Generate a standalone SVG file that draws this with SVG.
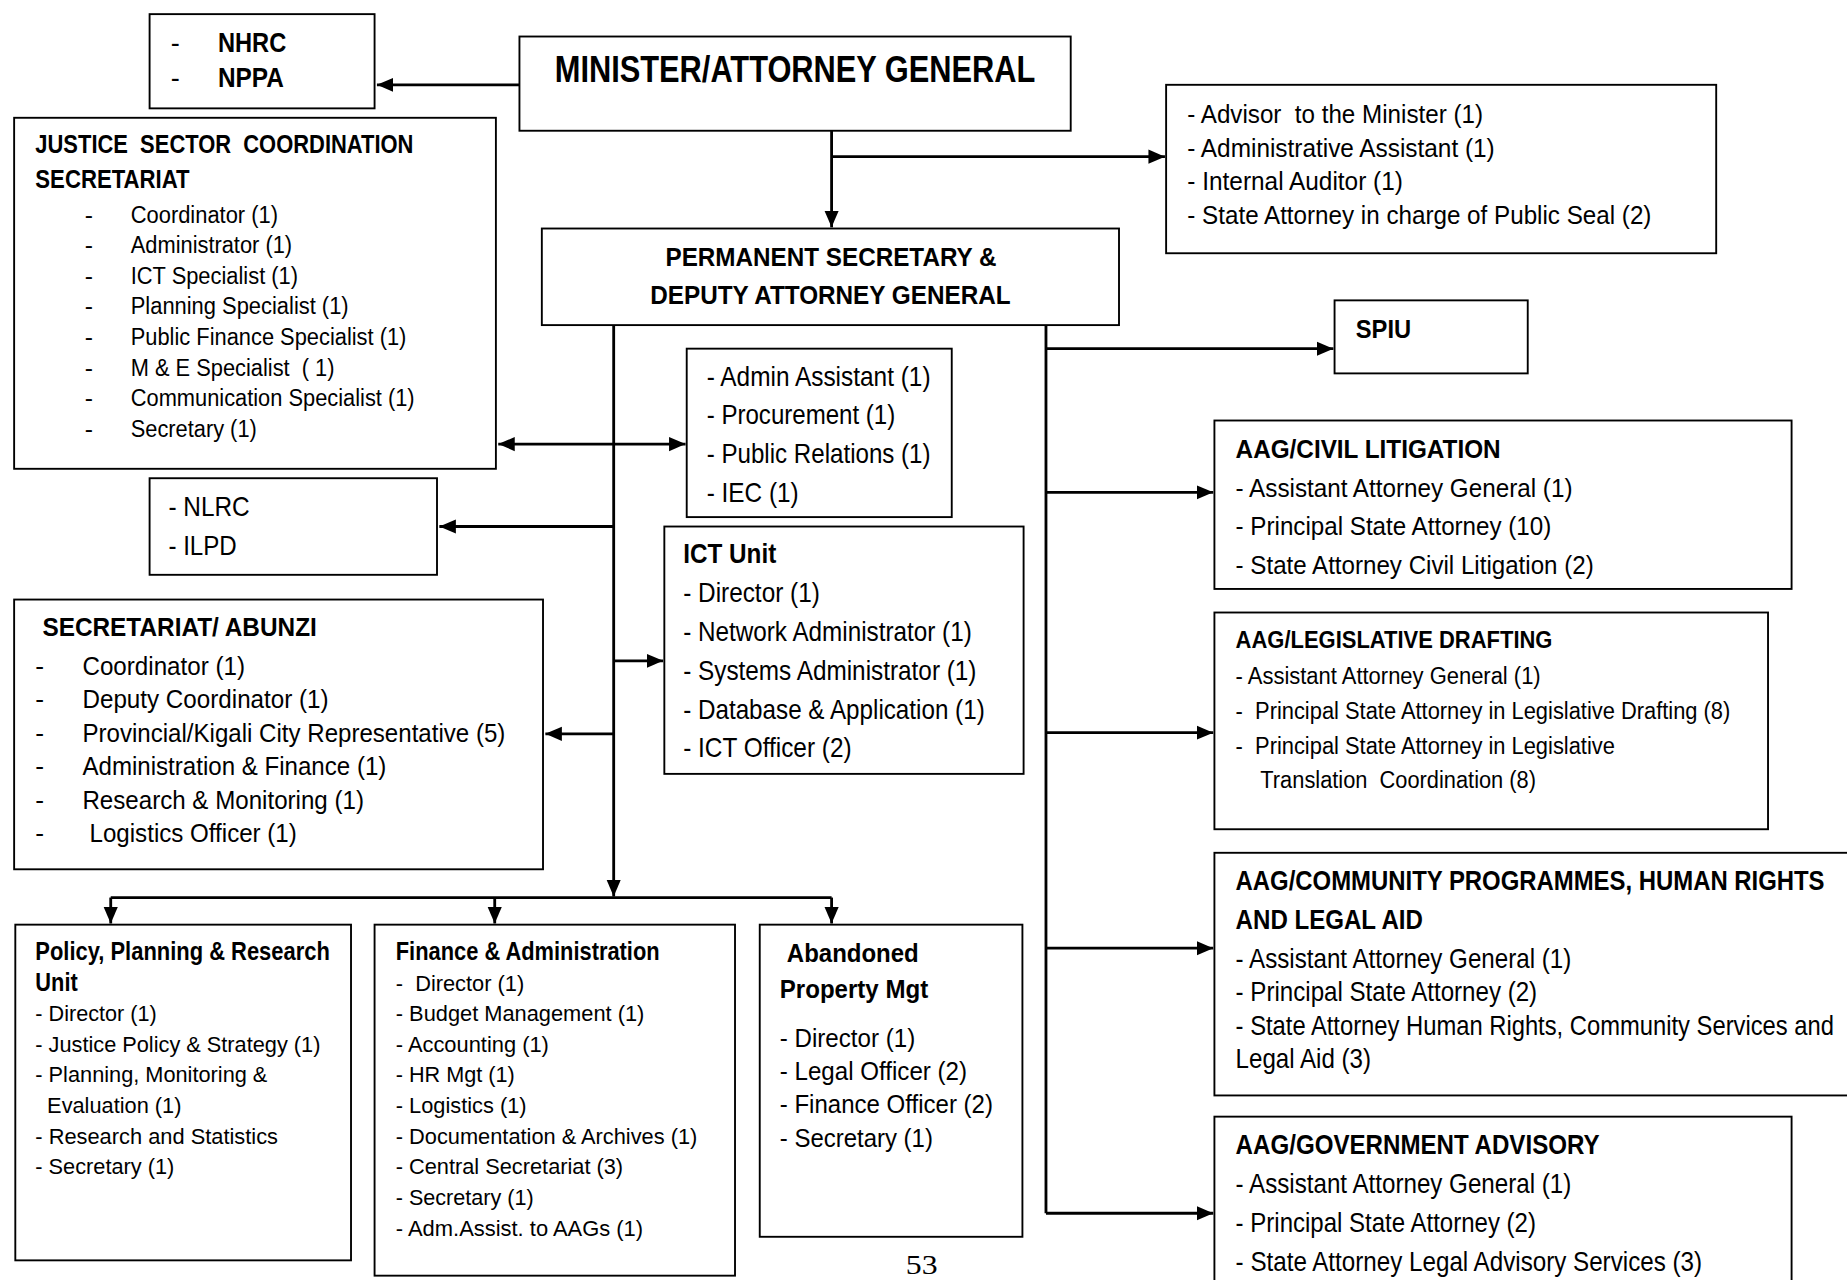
<svg xmlns="http://www.w3.org/2000/svg" width="1847" height="1280" viewBox="0 0 1847 1280">
<style>
.box{fill:#fff;stroke:#000;stroke-width:1.6}
.c{fill:none;stroke:#000;stroke-width:2.4}
text{font-family:"Liberation Sans Narrow","Liberation Sans",Arial,sans-serif;fill:#000;white-space:pre}
.b{font-weight:bold}
</style>
<defs>
<marker id="ah" markerUnits="userSpaceOnUse" markerWidth="15" markerHeight="15" viewBox="0 0 15 15" refX="14" refY="7.5" orient="auto-start-reverse">
<path d="M0,1.5 L14,7.5 L0,13.5 Z" fill="#000"/>
</marker>
</defs>
<rect width="1847" height="1280" fill="#fff"/>
<g transform="scale(1.1779)">
<g id="connectors">
<path class="c" d="M441,72 H320" marker-end="url(#ah)"/>
<path class="c" d="M706,111 V193" marker-end="url(#ah)"/>
<path class="c" d="M706,133 H989" marker-end="url(#ah)"/>
<path class="c" d="M521,276 V761" marker-end="url(#ah)"/>
<path class="c" d="M94,762 H706"/>
<path class="c" d="M94,762 V784" marker-end="url(#ah)"/>
<path class="c" d="M420,762 V784" marker-end="url(#ah)"/>
<path class="c" d="M706,762 V784" marker-end="url(#ah)"/>
<path class="c" d="M423,377 H582" marker-start="url(#ah)" marker-end="url(#ah)"/>
<path class="c" d="M521,447 H373" marker-end="url(#ah)"/>
<path class="c" d="M521,561 H563" marker-end="url(#ah)"/>
<path class="c" d="M521,623 H463" marker-end="url(#ah)"/>
<path class="c" d="M888,276 V1030"/>
<path class="c" d="M888,296 H1132" marker-end="url(#ah)"/>
<path class="c" d="M888,418 H1030" marker-end="url(#ah)"/>
<path class="c" d="M888,622 H1030" marker-end="url(#ah)"/>
<path class="c" d="M888,805 H1030" marker-end="url(#ah)"/>
<path class="c" d="M888,1030 H1030" marker-end="url(#ah)"/>
</g>

<g id="nhrc">
<rect class="box" x="127" y="12" width="191" height="80"/>
<text font-size="23" x="145" y="44">-</text>
<text class="b" font-size="23" x="185" y="44" textLength="58" lengthAdjust="spacingAndGlyphs">NHRC</text>
<text font-size="23" x="145" y="74">-</text>
<text class="b" font-size="23" x="185" y="74" textLength="56" lengthAdjust="spacingAndGlyphs">NPPA</text>
</g>

<g id="minister">
<rect class="box" x="441" y="31" width="468" height="80"/>
<text class="b" font-size="31.5" x="471" y="70" textLength="408" lengthAdjust="spacingAndGlyphs">MINISTER/ATTORNEY GENERAL</text>
</g>

<g id="jscs">
<rect class="box" x="12" y="100" width="409" height="298"/>
<text class="b" font-size="22" x="30" y="130" textLength="321" lengthAdjust="spacingAndGlyphs">JUSTICE  SECTOR  COORDINATION</text>
<text class="b" font-size="22" x="30" y="160" textLength="131" lengthAdjust="spacingAndGlyphs">SECRETARIAT</text>
<g font-size="21">
<text x="72" y="189">-</text><text x="111" y="189" textLength="125" lengthAdjust="spacingAndGlyphs">Coordinator (1)</text>
<text x="72" y="215">-</text><text x="111" y="215" textLength="137" lengthAdjust="spacingAndGlyphs">Administrator (1)</text>
<text x="72" y="241">-</text><text x="111" y="241" textLength="142" lengthAdjust="spacingAndGlyphs">ICT Specialist (1)</text>
<text x="72" y="267">-</text><text x="111" y="267" textLength="185" lengthAdjust="spacingAndGlyphs">Planning Specialist (1)</text>
<text x="72" y="293">-</text><text x="111" y="293" textLength="234" lengthAdjust="spacingAndGlyphs">Public Finance Specialist (1)</text>
<text x="72" y="319">-</text><text x="111" y="319" textLength="173" lengthAdjust="spacingAndGlyphs">M &amp; E Specialist  ( 1)</text>
<text x="72" y="345">-</text><text x="111" y="345" textLength="241" lengthAdjust="spacingAndGlyphs">Communication Specialist (1)</text>
<text x="72" y="371">-</text><text x="111" y="371" textLength="107" lengthAdjust="spacingAndGlyphs">Secretary (1)</text>
</g>
</g>

<g id="advisor">
<rect class="box" x="990" y="72" width="467" height="143"/>
<g font-size="22.5">
<text x="1008" y="104" textLength="251" lengthAdjust="spacingAndGlyphs">- Advisor  to the Minister (1)</text>
<text x="1008" y="133" textLength="261" lengthAdjust="spacingAndGlyphs">- Administrative Assistant (1)</text>
<text x="1008" y="161" textLength="183" lengthAdjust="spacingAndGlyphs">- Internal Auditor (1)</text>
<text x="1008" y="190" textLength="394" lengthAdjust="spacingAndGlyphs">- State Attorney in charge of Public Seal (2)</text>
</g>
</g>

<g id="ps">
<rect class="box" x="460" y="194" width="490" height="82"/>
<text class="b" font-size="21.5" x="565" y="226" textLength="281" lengthAdjust="spacingAndGlyphs">PERMANENT SECRETARY &amp;</text>
<text class="b" font-size="21.5" x="552" y="258" textLength="306" lengthAdjust="spacingAndGlyphs">DEPUTY ATTORNEY GENERAL</text>
</g>

<g id="spiu">
<rect class="box" x="1133" y="255" width="164" height="62"/>
<text class="b" font-size="22" x="1151" y="287" textLength="47" lengthAdjust="spacingAndGlyphs">SPIU</text>
</g>

<g id="admin">
<rect class="box" x="583" y="296" width="225" height="143"/>
<g font-size="23">
<text x="600" y="328" textLength="190" lengthAdjust="spacingAndGlyphs">- Admin Assistant (1)</text>
<text x="600" y="360" textLength="160" lengthAdjust="spacingAndGlyphs">- Procurement (1)</text>
<text x="600" y="393" textLength="190" lengthAdjust="spacingAndGlyphs">- Public Relations (1)</text>
<text x="600" y="426" textLength="78" lengthAdjust="spacingAndGlyphs">- IEC (1)</text>
</g>
</g>

<g id="nlrc">
<rect class="box" x="127" y="406" width="244" height="82"/>
<text font-size="23" x="143" y="438" textLength="69" lengthAdjust="spacingAndGlyphs">- NLRC</text>
<text font-size="23" x="143" y="471" textLength="58" lengthAdjust="spacingAndGlyphs">- ILPD</text>
</g>

<g id="ict">
<rect class="box" x="564" y="447" width="305" height="210"/>
<text class="b" font-size="23" x="580" y="478" textLength="79" lengthAdjust="spacingAndGlyphs">ICT Unit</text>
<g font-size="23">
<text x="580" y="511" textLength="116" lengthAdjust="spacingAndGlyphs">- Director (1)</text>
<text x="580" y="544" textLength="245" lengthAdjust="spacingAndGlyphs">- Network Administrator (1)</text>
<text x="580" y="577" textLength="249" lengthAdjust="spacingAndGlyphs">- Systems Administrator (1)</text>
<text x="580" y="610" textLength="256" lengthAdjust="spacingAndGlyphs">- Database &amp; Application (1)</text>
<text x="580" y="643" textLength="143" lengthAdjust="spacingAndGlyphs">- ICT Officer (2)</text>
</g>
</g>

<g id="abunzi">
<rect class="box" x="12" y="509" width="449" height="229"/>
<text class="b" font-size="22" x="36" y="540" textLength="233" lengthAdjust="spacingAndGlyphs">SECRETARIAT/ ABUNZI</text>
<g font-size="22.5">
<text x="30" y="573">-</text><text x="70" y="573" textLength="138" lengthAdjust="spacingAndGlyphs">Coordinator (1)</text>
<text x="30" y="601">-</text><text x="70" y="601" textLength="209" lengthAdjust="spacingAndGlyphs">Deputy Coordinator (1)</text>
<text x="30" y="630">-</text><text x="70" y="630" textLength="359" lengthAdjust="spacingAndGlyphs">Provincial/Kigali City Representative (5)</text>
<text x="30" y="658">-</text><text x="70" y="658" textLength="258" lengthAdjust="spacingAndGlyphs">Administration &amp; Finance (1)</text>
<text x="30" y="687">-</text><text x="70" y="687" textLength="239" lengthAdjust="spacingAndGlyphs">Research &amp; Monitoring (1)</text>
<text x="30" y="715">-</text><text x="76" y="715" textLength="176" lengthAdjust="spacingAndGlyphs">Logistics Officer (1)</text>
</g>
</g>

<g id="civil">
<rect class="box" x="1031" y="357" width="490" height="143"/>
<text class="b" font-size="22.5" x="1049" y="389" textLength="225" lengthAdjust="spacingAndGlyphs">AAG/CIVIL LITIGATION</text>
<g font-size="22.5">
<text x="1049" y="422" textLength="286" lengthAdjust="spacingAndGlyphs">- Assistant Attorney General (1)</text>
<text x="1049" y="454" textLength="268" lengthAdjust="spacingAndGlyphs">- Principal State Attorney (10)</text>
<text x="1049" y="487" textLength="304" lengthAdjust="spacingAndGlyphs">- State Attorney Civil Litigation (2)</text>
</g>
</g>

<g id="legislative">
<rect class="box" x="1031" y="520" width="470" height="184"/>
<text class="b" font-size="20.5" x="1049" y="550" textLength="269" lengthAdjust="spacingAndGlyphs">AAG/LEGISLATIVE DRAFTING</text>
<g font-size="21">
<text x="1049" y="581" textLength="259" lengthAdjust="spacingAndGlyphs">- Assistant Attorney General (1)</text>
<text x="1049" y="610" textLength="420" lengthAdjust="spacingAndGlyphs">-  Principal State Attorney in Legislative Drafting (8)</text>
<text x="1049" y="640" textLength="322" lengthAdjust="spacingAndGlyphs">-  Principal State Attorney in Legislative</text>
<text x="1070" y="669" textLength="234" lengthAdjust="spacingAndGlyphs">Translation  Coordination (8)</text>
</g>
</g>

<g id="community">
<rect class="box" x="1031" y="724" width="560" height="206"/>
<text class="b" font-size="23" x="1049" y="756" textLength="500" lengthAdjust="spacingAndGlyphs">AAG/COMMUNITY PROGRAMMES, HUMAN RIGHTS</text>
<text class="b" font-size="23" x="1049" y="789" textLength="159" lengthAdjust="spacingAndGlyphs">AND LEGAL AID</text>
<g font-size="23">
<text x="1049" y="822" textLength="285" lengthAdjust="spacingAndGlyphs">- Assistant Attorney General (1)</text>
<text x="1049" y="850" textLength="256" lengthAdjust="spacingAndGlyphs">- Principal State Attorney (2)</text>
<text x="1049" y="879" textLength="508" lengthAdjust="spacingAndGlyphs">- State Attorney Human Rights, Community Services and</text>
<text x="1049" y="907" textLength="115" lengthAdjust="spacingAndGlyphs">Legal Aid (3)</text>
</g>
</g>

<g id="government">
<rect class="box" x="1031" y="948" width="490" height="160"/>
<text class="b" font-size="23" x="1049" y="980" textLength="309" lengthAdjust="spacingAndGlyphs">AAG/GOVERNMENT ADVISORY</text>
<g font-size="23">
<text x="1049" y="1013" textLength="285" lengthAdjust="spacingAndGlyphs">- Assistant Attorney General (1)</text>
<text x="1049" y="1046" textLength="255" lengthAdjust="spacingAndGlyphs">- Principal State Attorney (2)</text>
<text x="1049" y="1079" textLength="396" lengthAdjust="spacingAndGlyphs">- State Attorney Legal Advisory Services (3)</text>
</g>
</g>

<g id="policy">
<rect class="box" x="13" y="785" width="285" height="285"/>
<text class="b" font-size="21.5" x="30" y="815" textLength="250" lengthAdjust="spacingAndGlyphs">Policy, Planning &amp; Research</text>
<text class="b" font-size="21.5" x="30" y="841" textLength="36" lengthAdjust="spacingAndGlyphs">Unit</text>
<g font-size="19.5">
<text x="30" y="867" textLength="103" lengthAdjust="spacingAndGlyphs">- Director (1)</text>
<text x="30" y="893" textLength="242" lengthAdjust="spacingAndGlyphs">- Justice Policy &amp; Strategy (1)</text>
<text x="30" y="919" textLength="197" lengthAdjust="spacingAndGlyphs">- Planning, Monitoring &amp;</text>
<text x="40" y="945" textLength="114" lengthAdjust="spacingAndGlyphs">Evaluation (1)</text>
<text x="30" y="971" textLength="206" lengthAdjust="spacingAndGlyphs">- Research and Statistics</text>
<text x="30" y="997" textLength="118" lengthAdjust="spacingAndGlyphs">- Secretary (1)</text>
</g>
</g>

<g id="finance">
<rect class="box" x="318" y="785" width="306" height="298"/>
<text class="b" font-size="21.5" x="336" y="815" textLength="224" lengthAdjust="spacingAndGlyphs">Finance &amp; Administration</text>
<g font-size="19.5">
<text x="336" y="841" textLength="109" lengthAdjust="spacingAndGlyphs">-  Director (1)</text>
<text x="336" y="867" textLength="211" lengthAdjust="spacingAndGlyphs">- Budget Management (1)</text>
<text x="336" y="893" textLength="130" lengthAdjust="spacingAndGlyphs">- Accounting (1)</text>
<text x="336" y="919" textLength="101" lengthAdjust="spacingAndGlyphs">- HR Mgt (1)</text>
<text x="336" y="945" textLength="111" lengthAdjust="spacingAndGlyphs">- Logistics (1)</text>
<text x="336" y="971" textLength="256" lengthAdjust="spacingAndGlyphs">- Documentation &amp; Archives (1)</text>
<text x="336" y="997" textLength="193" lengthAdjust="spacingAndGlyphs">- Central Secretariat (3)</text>
<text x="336" y="1023" textLength="117" lengthAdjust="spacingAndGlyphs">- Secretary (1)</text>
<text x="336" y="1049" textLength="210" lengthAdjust="spacingAndGlyphs">- Adm.Assist. to AAGs (1)</text>
</g>
</g>

<g id="abandoned">
<rect class="box" x="645" y="785" width="223" height="265"/>
<text class="b" font-size="22.5" x="668" y="817" textLength="112" lengthAdjust="spacingAndGlyphs">Abandoned</text>
<text class="b" font-size="22.5" x="662" y="847" textLength="126" lengthAdjust="spacingAndGlyphs">Property Mgt</text>
<g font-size="22.5">
<text x="662" y="889" textLength="115" lengthAdjust="spacingAndGlyphs">- Director (1)</text>
<text x="662" y="917" textLength="159" lengthAdjust="spacingAndGlyphs">- Legal Officer (2)</text>
<text x="662" y="945" textLength="181" lengthAdjust="spacingAndGlyphs">- Finance Officer (2)</text>
<text x="662" y="974" textLength="130" lengthAdjust="spacingAndGlyphs">- Secretary (1)</text>
</g>
</g>

<text x="769" y="1082" font-size="23" style="font-family:'Liberation Serif','Times New Roman',serif" textLength="27" lengthAdjust="spacingAndGlyphs">53</text>
</g>
</svg>
